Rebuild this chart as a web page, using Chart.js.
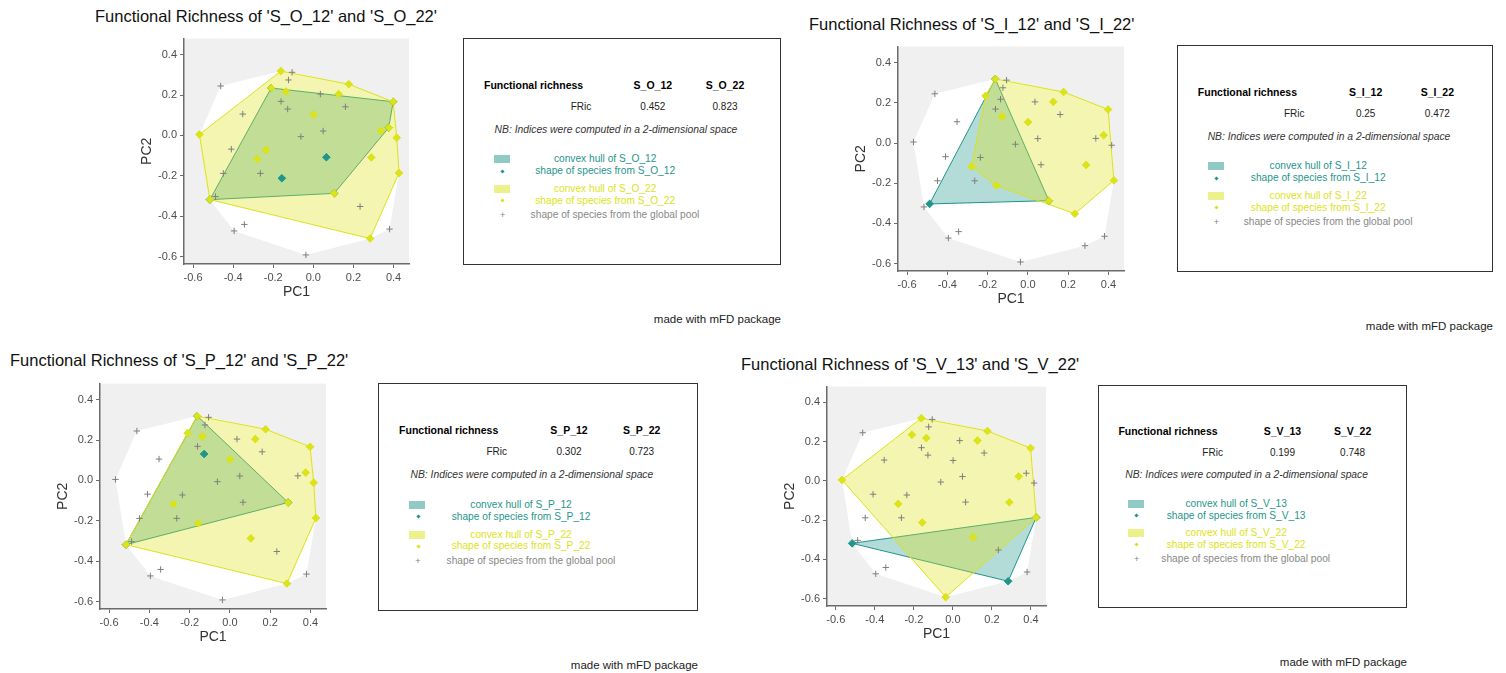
<!DOCTYPE html>
<html>
<head>
<meta charset="utf-8">
<script src="https://cdn.jsdelivr.net/npm/chart.js@4.4.1/dist/chart.umd.min.js"></script>
<style>
  body { margin: 0; background: #fff; width: 1506px; height: 673px; overflow: hidden; position: relative;
         font-family: "Liberation Sans", Arial, sans-serif; }
  canvas { position: absolute; }
  .t { position: absolute; white-space: nowrap; line-height: 1; }
  .box { position: absolute; border: 1px solid #333; box-sizing: border-box; }
</style>
</head>
<body>
<script>
// species coordinates in the functional space (global pool)
const speciesNames = ["sp01","sp02","sp03","sp04","sp05","sp06","sp07","sp08","sp09","sp10",
  "sp11","sp12","sp13","sp14","sp15","sp16","sp17","sp18","sp19","sp20",
  "sp21","sp22","sp23","sp24","sp25","sp26","sp27","sp28","sp29","sp30",
  "sp31","sp32","sp33","sp34","sp35","sp36","sp37","sp38","sp39"];
const pc1 = [-0.568,-0.462,-0.162,-0.106,-0.124,-0.210,-0.136,0.177,0.035,0.126,
  -0.161,-0.128,0.160,0.001,-0.352,0.398,0.376,0.416,0.337,0.049,
  -0.062,-0.409,-0.236,-0.280,0.065,0.289,0.427,-0.449,-0.264,-0.157,
  0.104,0.233,0.283,0.380,-0.344,-0.395,-0.037,-0.516,-0.488];
const pc2 = [0.005,0.245,0.319,0.313,0.275,0.235,0.218,0.254,0.205,0.205,
  0.169,0.131,0.142,0.104,0.106,0.167,0.039,-0.011,0.023,0.022,
  -0.006,-0.068,-0.072,-0.117,-0.108,-0.109,-0.186,-0.188,-0.188,-0.212,
  -0.287,-0.352,-0.511,-0.464,-0.441,-0.473,-0.592,-0.318,-0.303];

// assemblages compared in each panel
const assemblageA = ["S_O_12", "S_I_12", "S_P_12", "S_V_13"];
const assemblageB = ["S_O_22", "S_I_22", "S_P_22", "S_V_22"];
const fricA = ["0.452", "0.25", "0.302", "0.199"];
const fricB = ["0.823", "0.472", "0.723", "0.748"];

const speciesA = [
  ["sp06","sp16","sp17","sp31","sp38","sp30","sp25"],
  ["sp03","sp39","sp31"],
  ["sp03","sp26","sp38","sp12"],
  ["sp38","sp27","sp33"]
];
const speciesB = [
  ["sp01","sp03","sp06","sp07","sp08","sp10","sp14","sp16","sp17","sp19","sp18","sp26","sp27","sp33","sp38","sp31","sp23","sp24"],
  ["sp03","sp06","sp08","sp10","sp16","sp12","sp14","sp17","sp26","sp27","sp32","sp31","sp30","sp24"],
  ["sp03","sp06","sp07","sp08","sp10","sp16","sp14","sp17","sp18","sp26","sp27","sp24","sp30","sp31","sp38","sp33"],
  ["sp01","sp03","sp06","sp07","sp08","sp10","sp16","sp19","sp26","sp27","sp24","sp30","sp31","sp37"]
];

const axisTicks = [-0.6, -0.4, -0.2, 0, 0.2, 0.4];

// page layout: title [x, centerY], plot area [l, t, r, b], table box [l, t, w, h]
const layout = [
  { title: [95, 16],  area: [184, 37, 409, 264],  box: [463, 38, 318, 227] },
  { title: [809, 24], area: [898, 45, 1124, 271], box: [1177, 45, 316, 227] },
  { title: [10, 360], area: [100, 382, 326, 609], box: [378, 383, 320, 228] },
  { title: [741, 364], area: [827, 385, 1046, 606], box: [1098, 385, 309, 223] }
];

const FONT = '"Liberation Sans", Arial, sans-serif';
const TEAL = "#1F968B";
const YELLOW = "#DCE319";
const Y_W = 50, X_H = 38, PAD = 8;

function pts(names) {
  return names.map(n => {
    const k = speciesNames.indexOf(n);
    return { x: pc1[k], y: pc2[k] };
  });
}

// monotone chain convex hull, returned closed
function hull(points) {
  const p = points.slice().sort((a, b) => a.x - b.x || a.y - b.y);
  const cross = (o, a, b) => (a.x - o.x) * (b.y - o.y) - (a.y - o.y) * (b.x - o.x);
  const lower = [], upper = [];
  for (const q of p) {
    while (lower.length >= 2 && cross(lower[lower.length - 2], lower[lower.length - 1], q) <= 0) lower.pop();
    lower.push(q);
  }
  for (let i = p.length - 1; i >= 0; i--) {
    const q = p[i];
    while (upper.length >= 2 && cross(upper[upper.length - 2], upper[upper.length - 1], q) <= 0) upper.pop();
    upper.push(q);
  }
  const h = lower.slice(0, -1).concat(upper.slice(0, -1));
  h.push(h[0]);
  return h;
}

const panelBg = {
  id: "panelBg",
  beforeDraw(chart) {
    const { ctx, chartArea: a } = chart;
    ctx.save();
    ctx.fillStyle = "#F0F0F0";
    ctx.fillRect(a.left, a.top, a.right - a.left, a.bottom - a.top);
    ctx.restore();
  }
};

function addText(txt, x, y, css, align) {
  const d = document.createElement("div");
  d.className = "t";
  d.textContent = txt;
  d.style.left = x + "px";
  d.style.top = y + "px";
  const tx = align === "left" ? "0" : align === "right" ? "-100%" : "-50%";
  d.style.transform = "translate(" + tx + ",-50%)";
  d.style.cssText += css;
  document.body.appendChild(d);
  return d;
}

function makePanel(i) {
  const L = layout[i];
  const [l, t, r, b] = L.area;

  addText("Functional Richness of '" + assemblageA[i] + "' and '" + assemblageB[i] + "'",
    L.title[0], L.title[1], "font-size:16.5px;color:#111;", "left");

  const cv = document.createElement("canvas");
  const w = r - l + Y_W + PAD, h = b - t + X_H + PAD;
  cv.width = w; cv.height = h;
  cv.style.left = (l - Y_W) + "px";
  cv.style.top = (t - PAD) + "px";
  cv.style.width = w + "px"; cv.style.height = h + "px";
  document.body.appendChild(cv);

  const all = pts(speciesNames);
  const a = pts(speciesA[i]);
  const bb = pts(speciesB[i]);

  const axisCommon = {
    type: "linear",
    afterBuildTicks: s => { s.ticks = axisTicks.map(v => ({ value: v })); },
    grid: { display: true, drawOnChartArea: false, drawTicks: true, tickLength: 4, color: "#6B6B6B", lineWidth: 1 },
    border: { display: true, color: "#6B6B6B", width: 1.5 },
    ticks: { font: { family: FONT, size: 11 }, color: "#4D4D4D", padding: 3, autoSkip: false, maxRotation: 0,
             callback: v => v.toFixed(1) }
  };

  new Chart(cv.getContext("2d"), {
    type: "line",
    data: {
      datasets: [
        { data: hull(all), showLine: true, fill: "shape", backgroundColor: "#FFFFFF",
          borderWidth: 0, borderColor: "#FFFFFF", pointRadius: 0, tension: 0, order: 6 },
        { data: hull(a), showLine: true, fill: "shape", backgroundColor: "rgba(31,150,139,0.34)",
          borderWidth: 1, borderColor: TEAL, pointRadius: 0, tension: 0, order: 5 },
        { data: hull(bb), showLine: true, fill: "shape", backgroundColor: "rgba(220,227,25,0.34)",
          borderWidth: 1, borderColor: YELLOW, pointRadius: 0, tension: 0, order: 4 },
        { data: all, showLine: false, pointStyle: "cross", pointRadius: 3.2, borderWidth: 1,
          borderColor: "#7F7F7F", order: 3 },
        { data: a, showLine: false, pointStyle: "rectRot", pointRadius: 3.8, borderWidth: 1,
          backgroundColor: TEAL, borderColor: TEAL, order: 2 },
        { data: bb, showLine: false, pointStyle: "rectRot", pointRadius: 3.8, borderWidth: 1,
          backgroundColor: YELLOW, borderColor: YELLOW, order: 1 }
      ]
    },
    options: {
      responsive: false,
      animation: false,
      events: [],
      layout: { padding: { top: PAD, right: PAD, left: 0, bottom: 0 } },
      plugins: { legend: { display: false }, tooltip: { enabled: false } },
      scales: {
        x: Object.assign({}, axisCommon, {
          min: -0.645, max: 0.477,
          afterFit: s => { s.height = X_H; },
          title: { display: true, text: "PC1", font: { family: FONT, size: 14 }, color: "#333",
                   padding: { top: 0, bottom: 1 } }
        }),
        y: Object.assign({}, axisCommon, {
          min: -0.637, max: 0.48,
          afterFit: s => { s.width = Y_W; },
          title: { display: true, text: "PC2", font: { family: FONT, size: 14 }, color: "#333",
                   padding: { top: 4.6, bottom: 0 } }
        })
      }
    },
    plugins: [panelBg]
  });

  // table box with FRic values and legend
  const [bl, bt, bw, bh] = L.box;
  const box = document.createElement("div");
  box.className = "box";
  box.style.left = bl + "px"; box.style.top = bt + "px";
  box.style.width = bw + "px"; box.style.height = bh + "px";
  document.body.appendChild(box);

  const X = f => bl + f * bw, Y = f => bt + f * bh;
  addText("Functional richness", X(0.066), Y(0.207), "font-size:10.5px;font-weight:bold;color:#000;", "left");
  addText(assemblageA[i], X(0.597), Y(0.207), "font-size:10.5px;font-weight:bold;color:#000;");
  addText(assemblageB[i], X(0.824), Y(0.207), "font-size:10.5px;font-weight:bold;color:#000;");
  addText("FRic", X(0.371), Y(0.304), "font-size:10px;color:#222;");
  addText(fricA[i], X(0.597), Y(0.304), "font-size:10px;color:#222;");
  addText(fricB[i], X(0.824), Y(0.304), "font-size:10px;color:#222;");
  addText("NB: Indices were computed in a 2-dimensional space", X(0.481), Y(0.405),
    "font-size:10.3px;font-style:italic;color:#333;");

  const rect = (f, col) => {
    const d = document.createElement("div");
    d.style.cssText = "position:absolute;width:16px;height:8px;background:" + col + ";";
    d.style.left = X(0.097) + "px";
    d.style.top = (Y(f) - 4) + "px";
    document.body.appendChild(d);
  };
  const dot = (f, col) => {
    const d = document.createElement("div");
    d.style.cssText = "position:absolute;width:3px;height:3px;transform:rotate(45deg);background:" + col + ";";
    d.style.left = (X(0.125) - 1.5) + "px";
    d.style.top = (Y(f) - 1.5) + "px";
    document.body.appendChild(d);
  };
  rect(0.533, "rgba(31,150,139,0.5)");
  addText("convex hull of " + assemblageA[i], X(0.447), Y(0.533), "font-size:10.2px;color:" + TEAL + ";");
  dot(0.586, TEAL);
  addText("shape of species from " + assemblageA[i], X(0.447), Y(0.586), "font-size:10.2px;color:" + TEAL + ";");
  rect(0.665, "rgba(220,227,25,0.5)");
  addText("convex hull of " + assemblageB[i], X(0.447), Y(0.665), "font-size:10.2px;color:" + YELLOW + ";");
  dot(0.717, YELLOW);
  addText("shape of species from " + assemblageB[i], X(0.447), Y(0.717), "font-size:10.2px;color:" + YELLOW + ";");
  addText("+", X(0.125), Y(0.78), "font-size:9px;color:#7F7F7F;");
  addText("shape of species from the global pool", X(0.478), Y(0.78), "font-size:10.2px;color:#888;");

  addText("made with mFD package", bl + bw, bt + bh + 55, "font-size:11.5px;color:#222;", "right");
}

for (let i = 0; i < 4; i++) makePanel(i);
</script>
</body>
</html>
